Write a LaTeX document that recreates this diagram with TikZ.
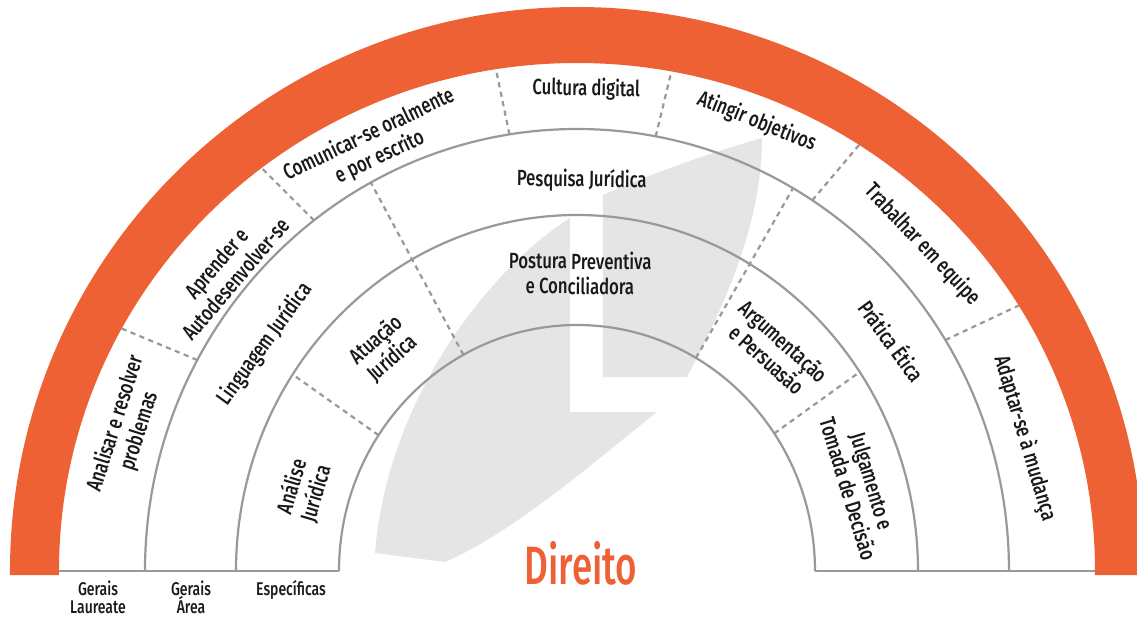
\documentclass[tikz,border=0pt]{standalone}
\usepackage{fontspec}
\setmainfont{Fira Sans}[UprightFont=* Medium, FakeStretch=0.76]
\newfontfamily\coursefont{Fira Sans}[UprightFont=* Medium, FakeStretch=0.68]
\usepackage{xcolor}
\usepackage{tikz}

\definecolor{lauorange}{RGB}{238,97,52}
\definecolor{ringgray}{RGB}{153,153,153}
\definecolor{leafgray}{RGB}{229,229,229}

\begin{document}
\begin{tikzpicture}[
    x=0.5pt, y=0.5pt,
    ring/.style={draw=ringgray, line width=1.1pt},
    divider/.style={draw=ringgray, line width=1.1pt, dash pattern=on 2.6pt off 2.2pt},
    skill/.style={align=center, inner sep=0pt, text=black!90, font=\fontsize{11}{12.5}\selectfont},
    level/.style={align=center, anchor=north, inner sep=0pt, text=black!90, font=\fontsize{9.2}{9}\selectfont}
]

\useasboundingbox[fill=white] (-577,-47) rectangle (560,571);

% Background leaf (light grey L)
\fill[leafgray] (-202,18) .. controls (-190,170) and (-90,300) .. (-7,353) -- (-7,159) -- (80,159) .. controls (30,120) and (-60,40) .. (-132,9) -- cycle;
\fill[leafgray] (26,194) -- (110,194) .. controls (150,270) and (185,350) .. (185,433) .. controls (140,420) and (80,400) .. (26,376) -- cycle;

% Outer orange band
\fill[lauorange] (-567,-4) -- (-567,0) arc[start angle=180, end angle=0, x radius=567, y radius=564] -- (567,-4) -- (518,-4) -- (518,0) arc[start angle=0, end angle=180, x radius=518, y radius=508] -- (-518,-4) -- cycle;

% Ring borders and base line
\draw[ring] (-432,0) arc[start angle=180, end angle=0, x radius=432, y radius=442];
\draw[ring] (-341,0) arc[start angle=180, end angle=0, x radius=341, y radius=356];
\draw[ring] (-238,0) arc[start angle=180, end angle=0, x radius=238, y radius=246];
\draw[ring] (-518,0) -- (-238,0);
\draw[ring] (238,0) -- (518,0);

% Dividers: Gerais Laureate ring
\draw[divider] (151.5:432 and 442) -- (151.5:518 and 508);
\draw[divider] (127.5:432 and 442) -- (127.5:518 and 508);
\draw[divider] (99:432 and 442) -- (99:518 and 508);
\draw[divider] (79.5:432 and 442) -- (79.5:518 and 508);
\draw[divider] (57:432 and 442) -- (57:518 and 508);
\draw[divider] (31.5:432 and 442) -- (31.5:518 and 508);

% Dividers: Gerais Area and Especificas rings
\draw[divider] (118.5:238 and 246) -- (118.5:432 and 442);
\draw[divider] (60:238 and 246) -- (60:432 and 442);
\draw[divider] (146.5:238 and 246) -- (146.5:341 and 356);
\draw[divider] (34:238 and 246) -- (34:341 and 356);

% Gerais Laureate competences
\node[skill, rotate=72.3] (analisar) at (162.3:472) {Analisar e resolver\\problemas};
\node[skill, rotate=49.5] (aprender) at (139.5:462) {Aprender e\\Autodesenvolver-se};
\node[skill, rotate=25.5] (comunicar) at (115.5:471) {Comunicar-se oralmente\\e por escrito};
\node[skill, rotate=-1.1] (cultura) at (88.9:482) {Cultura digital};
\node[skill, rotate=-21.8] (atingir) at (68.2:484) {Atingir objetivos};
\node[skill, rotate=-46.6] (trabalhar) at (43.4:475) {Trabalhar em equipe};
\node[skill, rotate=-73.5] (adaptar) at (16.5:467) {Adaptar-se à mudança};

% Gerais Area competences
\node[skill, rotate=54] (linguagem) at (144:386) {Linguagem Jurídica};
\node[skill, rotate=-0.7] (pesquisa) at (89.3:391) {Pesquisa Jurídica};
\node[skill, rotate=-53.8] (pratica) at (36.2:391) {Prática Ética};

% Especificas competences
\node[skill, rotate=73.5] (analise) at (163.5:285) {Análise\\Jurídica};
\node[skill, rotate=41] (atuacao) at (131:294) {Atuação\\Jurídica};
\node[skill, rotate=-0.6] (postura) at (89.4:298) {Postura Preventiva\\e Conciliadora};
\node[skill, rotate=-42] (argumentacao) at (48:297) {Argumentação\\e Persuasão};
\node[skill, rotate=-73.1] (julgamento) at (16.9:296) {Julgamento e\\Tomada de Decisão};

% Course name and ring levels
\node[inner sep=0pt, text=lauorange, font=\coursefont\fontsize{27}{27}\selectfont] (direito) at (4,8) {Direito};
\node[level] (laureate) at (-479,-9) {Gerais\\Laureate};
\node[level] (area) at (-386,-9) {Gerais\\Área};
\node[level] (especificas) at (-286,-9) {Específicas};

\end{tikzpicture}
\end{document}
